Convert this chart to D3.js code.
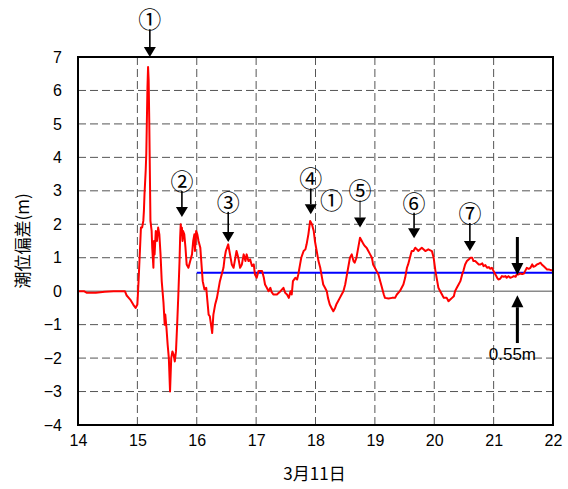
<!DOCTYPE html>
<html><head><meta charset="utf-8">
<script src="https://cdn.jsdelivr.net/npm/d3@7"></script>
<style>body{margin:0;background:#fff}</style>
</head><body>
<svg id="c" width="568" height="489"></svg>
<script>
// Time (hour of day, 3月11日) and tide deviation (m)
const hours = [14.00,14.10,14.15,14.30,14.45,14.60,14.79,14.82,14.88,14.93,14.97,15.00,15.02,15.04,15.06,15.08,15.10,15.11,15.12,15.14,15.15,15.16,15.17,15.18,15.19,15.20,15.21,15.22,15.24,15.25,15.27,15.28,15.29,15.31,15.33,15.35,15.37,15.39,15.41,15.44,15.46,15.47,15.49,15.51,15.53,15.55,15.57,15.59,15.61,15.63,15.65,15.67,15.69,15.71,15.72,15.73,15.74,15.75,15.76,15.77,15.79,15.81,15.83,15.86,15.89,15.92,15.94,15.96,15.97,15.99,16.01,16.03,16.06,16.08,16.10,16.13,16.16,16.18,16.20,16.22,16.24,16.26,16.28,16.31,16.34,16.37,16.39,16.42,16.45,16.47,16.49,16.53,16.56,16.59,16.62,16.64,16.67,16.70,16.73,16.76,16.79,16.82,16.84,16.87,16.90,16.93,16.96,16.98,17.01,17.04,17.10,17.13,17.15,17.18,17.21,17.24,17.26,17.29,17.35,17.41,17.46,17.49,17.52,17.55,17.58,17.60,17.62,17.66,17.69,17.71,17.74,17.76,17.80,17.83,17.85,17.88,17.91,17.94,17.97,17.99,18.02,18.05,18.08,18.11,18.13,18.16,18.19,18.21,18.24,18.27,18.30,18.33,18.35,18.38,18.41,18.44,18.47,18.50,18.52,18.55,18.58,18.61,18.64,18.66,18.69,18.72,18.75,18.78,18.81,18.83,18.86,18.89,18.92,18.95,18.97,19.00,19.03,19.06,19.09,19.12,19.15,19.17,19.23,19.29,19.34,19.37,19.42,19.48,19.51,19.54,19.56,19.59,19.62,19.65,19.68,19.71,19.73,19.79,19.85,19.90,19.96,19.99,20.02,20.05,20.07,20.10,20.13,20.16,20.21,20.24,20.27,20.30,20.33,20.35,20.38,20.41,20.44,20.47,20.49,20.52,20.55,20.58,20.61,20.64,20.66,20.69,20.72,20.75,20.78,20.81,20.83,20.86,20.89,20.92,20.94,20.97,21.00,21.03,21.06,21.08,21.11,21.14,21.17,21.20,21.22,21.25,21.28,21.31,21.34,21.37,21.39,21.42,21.45,21.48,21.51,21.53,21.56,21.59,21.62,21.65,21.67,21.70,21.73,21.76,21.79,21.81,21.84,21.87,21.90,21.93,21.96,22.00];
const tide = [0,0,-0.05,-0.05,-0.02,0,0,-0.13,-0.25,-0.4,-0.5,-0.4,0.3,1.1,1.9,1.9,2.1,2.4,2.9,3.6,4.1,5.1,6.1,6.7,6.3,5.1,3.6,2.1,1.8,1.3,0.7,1.5,1.1,1.8,1.5,1.9,1.7,1.1,0.3,-0.35,-1.0,-0.7,-1.1,-1.6,-2.0,-3.0,-2.0,-1.8,-1.9,-2.1,-1.8,-1.0,-0.1,0.9,1.6,2.0,1.8,1.9,1.5,1.8,1.7,1.3,0.8,0.7,0.9,1.1,1.5,1.7,1.2,1.8,1.7,1.5,1.3,0.8,0.3,0.05,0.1,-0.3,-0.7,-0.75,-1.0,-1.25,-0.7,-0.4,-0.2,0.1,0.3,0.5,0.7,1.0,1.2,1.4,1.1,0.8,0.7,0.9,1.2,1.0,0.7,0.8,1.1,0.9,1.1,0.9,0.95,0.75,0.8,0.5,0.4,0.6,0.6,0.4,0.2,0.1,0,0.1,-0.02,-0.1,-0.1,0,0.1,-0.05,-0.1,-0.2,0.0,-0.1,0.3,0.4,0.35,0.5,0.8,1.0,1.2,1.25,1.4,1.7,2.1,2.0,1.8,1.5,1.2,0.9,0.7,0.4,0.2,0.1,0,-0.2,-0.4,-0.5,-0.6,-0.5,-0.4,-0.3,-0.2,-0.1,0,0.2,0.4,0.7,1.0,1.1,0.9,0.85,1.0,1.3,1.6,1.5,1.4,1.35,1.3,1.2,1.1,1.0,0.8,0.7,0.6,0.5,0.3,0.1,-0.1,-0.2,-0.22,-0.2,-0.2,-0.1,0,0.2,0.4,0.7,0.8,1.0,1.2,1.2,1.3,1.25,1.2,1.3,1.2,1.25,1.2,1.0,0.6,0.3,0.1,0,-0.1,-0.2,-0.2,-0.3,-0.25,-0.2,-0.15,0,0.1,0.2,0.3,0.5,0.6,0.8,0.9,0.95,1.0,1.0,0.9,0.9,0.85,0.8,0.8,0.83,0.75,0.78,0.7,0.72,0.67,0.7,0.6,0.5,0.4,0.35,0.37,0.45,0.43,0.45,0.4,0.45,0.4,0.42,0.45,0.43,0.5,0.5,0.53,0.51,0.53,0.6,0.7,0.67,0.7,0.8,0.73,0.75,0.8,0.82,0.85,0.8,0.75,0.7,0.65,0.65,0.63,0.62];

const xTicks = [14,15,16,17,18,19,20,21,22];
const yTicks = [-4,-3,-2,-1,0,1,2,3,4,5,6,7];
const refLevel = 0.55;          // blue reference line
const refStart = 16, refEnd = 22;

// annotations (circled numbers with arrows)
const annLabels = ["①","②","③","④","⑤","⑥","⑦"];
const annHour   = [15.21, 15.75, 16.53, 17.92, 18.75, 19.66, 20.60];
const annTip    = [7.0, 2.22, 1.47, 2.30, 1.90, 1.58, 1.20];
const annText   = [8.16, 3.32, 2.70, 3.40, 3.04, 2.67, 2.37];
const extraLabel = {text:"①", hour:18.27, value:2.77};
const markHour = 21.4, markDownTip = 0.48, markDownTop = 1.62, markUpTip = -0.12, markUpBottom = -1.55;
const markText = "0.55m";

const W = 568, H = 489;
const m = {l:78, t:57, r:15, b:64};
const svg = d3.select("#c");
const x = d3.scaleLinear().domain([14,22]).range([m.l, W-m.r]);
const y = d3.scaleLinear().domain([-4,7]).range([H-m.b, m.t]);
const fontNum = "'Liberation Sans', Arial, sans-serif";
const fontCJK = "'Noto Sans CJK JP', sans-serif";

// grid
svg.append("g").selectAll("line").data(yTicks.filter(d=>d>-4&&d<7&&d!==0)).join("line")
  .attr("x1", m.l).attr("x2", W-m.r).attr("y1", d=>y(d)).attr("y2", d=>y(d))
  .attr("stroke", "#555").attr("stroke-width", 1).attr("stroke-dasharray", "8,4");
svg.append("g").selectAll("line").data(xTicks.filter(d=>d>14&&d<22)).join("line")
  .attr("y1", m.t).attr("y2", H-m.b).attr("x1", d=>x(d)).attr("x2", d=>x(d))
  .attr("stroke", "#555").attr("stroke-width", 1).attr("stroke-dasharray", "8,4");
// zero line
svg.append("line").attr("x1", m.l).attr("x2", W-m.r).attr("y1", y(0)).attr("y2", y(0))
  .attr("stroke", "#8a8a8a").attr("stroke-width", 1.5);

// blue reference
svg.append("line").attr("x1", x(refStart)).attr("x2", x(refEnd)).attr("y1", y(refLevel)).attr("y2", y(refLevel))
  .attr("stroke", "#0000ff").attr("stroke-width", 2);

// red series
const data = hours.map((h,i)=>[h, tide[i]]);
svg.append("path").datum(data)
  .attr("d", d3.line().x(d=>x(d[0])).y(d=>y(d[1])))
  .attr("fill", "none").attr("stroke", "#ff0000").attr("stroke-width", 2).attr("stroke-linejoin", "round");

// frame
svg.append("rect").attr("x", m.l).attr("y", m.t).attr("width", W-m.l-m.r).attr("height", H-m.t-m.b)
  .attr("fill", "none").attr("stroke", "#000").attr("stroke-width", 2);

// axes (labels only)
const xAxis = d3.axisBottom(x).tickValues(xTicks).tickSize(0).tickPadding(10).tickFormat(d3.format("d"));
const gx = svg.append("g").attr("transform", `translate(0,${H-m.b})`).call(xAxis);
gx.select(".domain").remove();
gx.selectAll("text").attr("font-family", fontNum).attr("font-size", 16).attr("fill", "#000");
const yAxis = d3.axisLeft(y).tickValues(yTicks).tickSize(0).tickPadding(16)
  .tickFormat(d => d < 0 ? "\u2212" + Math.abs(d) : String(d));
const gy = svg.append("g").attr("transform", `translate(${m.l},0)`).call(yAxis);
gy.select(".domain").remove();
gy.selectAll("text").attr("font-family", fontNum).attr("font-size", 16).attr("fill", "#000");

// axis titles
svg.append("text").attr("x", (m.l + W - m.r)/2 - 1).attr("y", 480).attr("text-anchor", "middle")
  .attr("font-family", fontCJK).attr("font-size", 17).text("3月11日");
svg.append("text").attr("transform", `translate(29,${(m.t + H - m.b)/2}) rotate(-90)`)
  .attr("text-anchor", "middle").attr("font-family", fontCJK).attr("font-size", 17).text("潮位偏差(m)");

// arrows
function arrow(g, xp, y0, y1, w, hw, hh) {
  const dir = y1 > y0 ? 1 : -1;
  g.append("line").attr("x1", xp).attr("x2", xp).attr("y1", y0).attr("y2", y1 - dir*hh)
    .attr("stroke", "#000").attr("stroke-width", w);
  g.append("path").attr("d", `M${xp},${y1} L${xp-hw},${y1-dir*hh} L${xp+hw},${y1-dir*hh} Z`).attr("fill", "#000");
}
const ga = svg.append("g");
annLabels.forEach((lab, i) => {
  const xp = x(annHour[i]), ty = y(annText[i]);
  ga.append("text").attr("x", xp).attr("y", ty).attr("text-anchor", "middle").attr("dominant-baseline", "central")
    .attr("font-family", fontCJK).attr("font-size", 23).text(lab);
  arrow(ga, xp, ty + 11, y(annTip[i]), i === 4 ? 1 : 1.6, 6, 10);
});
ga.append("text").attr("x", x(extraLabel.hour)).attr("y", y(extraLabel.value)).attr("text-anchor", "middle")
  .attr("dominant-baseline", "central").attr("font-family", fontCJK).attr("font-size", 23).text(extraLabel.text);

arrow(ga, x(markHour), y(markDownTop), y(markDownTip), 3, 6, 12);
arrow(ga, x(markHour), y(markUpBottom), y(markUpTip), 3, 6, 12);
ga.append("text").attr("x", x(markHour) - 5).attr("y", y(markUpBottom) + 17).attr("text-anchor", "middle")
  .attr("font-family", fontNum).attr("font-size", 17).text(markText);
</script>
</body></html>
